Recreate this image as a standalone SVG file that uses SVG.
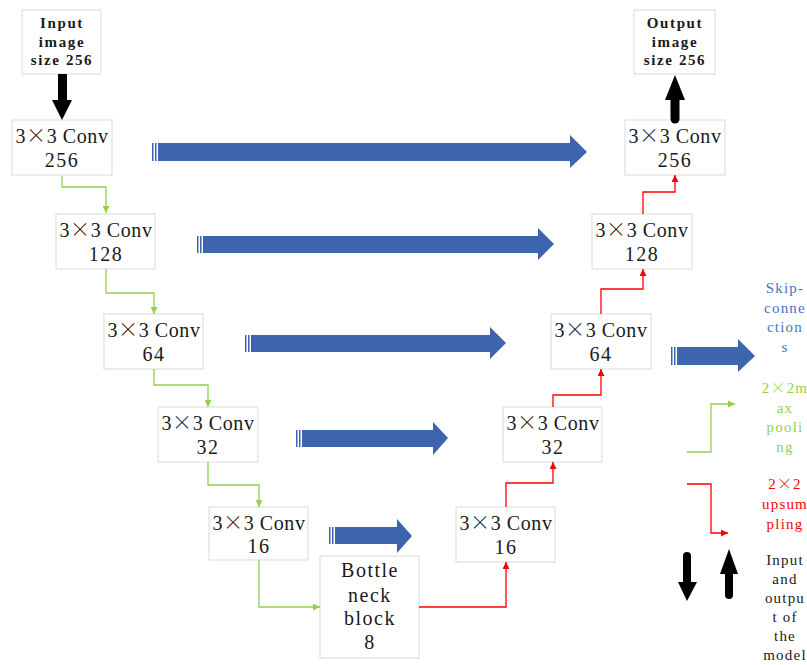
<svg xmlns="http://www.w3.org/2000/svg" width="807" height="665" viewBox="0 0 807 665">
  <style>
    .box { fill: #ffffff; stroke: #d9d9d9; stroke-width: 1; }
    .t { font-family: "Liberation Serif", "DejaVu Serif", serif; fill: #1a1a1a; text-anchor: middle; }
    .conv { font-size: 20px; letter-spacing: 0.6px; }
    .num { letter-spacing: 1.5px; }
    .mul { font-family: "Noto Sans CJK SC", "Liberation Serif", sans-serif; font-weight: 300; }
    .io { font-size: 15px; letter-spacing: 1.6px; font-weight: bold; }
    .leg { font-size: 15px; letter-spacing: 1.2px; }
    .down { fill: none; stroke: #92d050; stroke-width: 1.3; }
    .up { fill: none; stroke: #ff0000; stroke-width: 1.3; }
    .skip { fill: #3d65ad; }
    .io-arrow { fill: #000000; }
  </style>
  <defs>
    <marker id="headGreen" viewBox="0 0 10 10" refX="10" refY="5" markerWidth="7" markerHeight="7" markerUnits="userSpaceOnUse" orient="auto">
      <path d="M0,0 L10,5 L0,10 Z" fill="#92d050"/>
    </marker>
    <marker id="headRed" viewBox="0 0 10 10" refX="10" refY="5" markerWidth="7" markerHeight="7" markerUnits="userSpaceOnUse" orient="auto">
      <path d="M0,0 L10,5 L0,10 Z" fill="#ff0000"/>
    </marker>
  </defs>

  <rect width="807" height="665" fill="#ffffff"/>

  <!-- encoder -->
  <g id="input">
    <rect class="box" x="22" y="10" width="79" height="64"/>
    <text class="t io" x="62" y="28">Input</text>
    <text class="t io" x="62" y="46.5">image</text>
    <text class="t io" x="62" y="65">size 256</text>
  </g>
  <g id="enc256">
    <rect class="box" x="12" y="120" width="100" height="55"/>
    <text class="t conv" x="62" y="143">3<tspan class="mul">×</tspan>3 Conv</text>
    <text class="t conv num" x="62" y="167">256</text>
  </g>
  <g id="enc128">
    <rect class="box" x="56" y="214" width="99" height="55"/>
    <text class="t conv" x="106" y="237">3<tspan class="mul">×</tspan>3 Conv</text>
    <text class="t conv num" x="106" y="261">128</text>
  </g>
  <g id="enc64">
    <rect class="box" x="104" y="314" width="99" height="55"/>
    <text class="t conv" x="154" y="337">3<tspan class="mul">×</tspan>3 Conv</text>
    <text class="t conv num" x="154" y="361">64</text>
  </g>
  <g id="enc32">
    <rect class="box" x="158" y="407" width="100" height="55"/>
    <text class="t conv" x="208" y="430">3<tspan class="mul">×</tspan>3 Conv</text>
    <text class="t conv num" x="208" y="454">32</text>
  </g>
  <g id="enc16">
    <rect class="box" x="209" y="507" width="99" height="53"/>
    <text class="t conv" x="259" y="530">3<tspan class="mul">×</tspan>3 Conv</text>
    <text class="t conv num" x="259" y="553">16</text>
  </g>
  <g id="bottleneck">
    <rect class="box" x="320" y="556" width="99" height="102"/>
    <text class="t conv num" x="370" y="577">Bottle</text>
    <text class="t conv num" x="370" y="602">neck</text>
    <text class="t conv num" x="370" y="625">block</text>
    <text class="t conv num" x="370" y="649">8</text>
  </g>

  <!-- decoder -->
  <g id="dec16">
    <rect class="box" x="456" y="507" width="99" height="55"/>
    <text class="t conv" x="506" y="530">3<tspan class="mul">×</tspan>3 Conv</text>
    <text class="t conv num" x="506" y="554">16</text>
  </g>
  <g id="dec32">
    <rect class="box" x="503" y="407" width="99" height="55"/>
    <text class="t conv" x="553" y="430">3<tspan class="mul">×</tspan>3 Conv</text>
    <text class="t conv num" x="553" y="454">32</text>
  </g>
  <g id="dec64">
    <rect class="box" x="551" y="314" width="100" height="55"/>
    <text class="t conv" x="601" y="337">3<tspan class="mul">×</tspan>3 Conv</text>
    <text class="t conv num" x="601" y="361">64</text>
  </g>
  <g id="dec128">
    <rect class="box" x="592" y="214" width="100" height="55"/>
    <text class="t conv" x="642" y="237">3<tspan class="mul">×</tspan>3 Conv</text>
    <text class="t conv num" x="642" y="261">128</text>
  </g>
  <g id="dec256">
    <rect class="box" x="625" y="120" width="100" height="55"/>
    <text class="t conv" x="675" y="143">3<tspan class="mul">×</tspan>3 Conv</text>
    <text class="t conv num" x="675" y="167">256</text>
  </g>
  <g id="output">
    <rect class="box" x="634" y="10" width="81" height="64"/>
    <text class="t io" x="675" y="28">Output</text>
    <text class="t io" x="675" y="46.5">image</text>
    <text class="t io" x="675" y="65">size 256</text>
  </g>

  <!-- connectors -->
  <g id="connectors">
    <!-- max pooling steps -->
    <polyline class="down" points="62,176 62,187 106,187 106,213" marker-end="url(#headGreen)"/>
    <polyline class="down" points="106,269 106,293 154,293 154,314" marker-end="url(#headGreen)"/>
    <polyline class="down" points="154,369 154,385 208,385 208,407" marker-end="url(#headGreen)"/>
    <polyline class="down" points="208,462 208,485 259,485 259,507" marker-end="url(#headGreen)"/>
    <polyline class="down" points="259,560 259,607 320,607" marker-end="url(#headGreen)"/>

    <!-- upsampling steps -->
    <polyline class="up" points="419,607 506,607 506,562" marker-end="url(#headRed)"/>
    <polyline class="up" points="506,507 506,483 553,483 553,462" marker-end="url(#headRed)"/>
    <polyline class="up" points="553,407 553,395 601,395 601,369" marker-end="url(#headRed)"/>
    <polyline class="up" points="601,314 601,289 643,289 643,269" marker-end="url(#headRed)"/>
    <polyline class="up" points="643,214 643,192 675,192 675,175" marker-end="url(#headRed)"/>

    <!-- model input / output -->
    <g class="io-arrow">
      <rect x="58" y="74" width="9" height="28"/>
      <polygon points="52,100 72,100 62,120"/>
      <line x1="675" y1="99" x2="675" y2="119" stroke="#000" stroke-width="9" stroke-linecap="round"/>
      <polygon points="665,100 685,100 675,75"/>
    </g>

    <!-- skip connections -->
    <g class="skip">
      <rect x="152" y="143" width="1.5" height="18"/>
      <rect x="155" y="143" width="1.5" height="18"/>
      <rect x="158" y="143" width="413" height="18"/>
      <polygon points="570,135 587,152 570,168"/>
    </g>
    <g class="skip">
      <rect x="197" y="236" width="1.5" height="17"/>
      <rect x="200" y="236" width="1.5" height="17"/>
      <rect x="203" y="236" width="336" height="17"/>
      <polygon points="538,228 554,244 538,260"/>
    </g>
    <g class="skip">
      <rect x="245" y="335" width="1.5" height="17"/>
      <rect x="248" y="335" width="1.5" height="17"/>
      <rect x="251" y="335" width="240" height="17"/>
      <polygon points="490,327 506,343 490,359"/>
    </g>
    <g class="skip">
      <rect x="296" y="430" width="1.5" height="17"/>
      <rect x="299" y="430" width="1.5" height="17"/>
      <rect x="302" y="430" width="132" height="17"/>
      <polygon points="433,422 448,438 433,455"/>
    </g>
    <g class="skip">
      <rect x="329" y="527" width="1.5" height="17"/>
      <rect x="332" y="527" width="1.5" height="17"/>
      <rect x="335" y="527" width="63" height="17"/>
      <polygon points="397,519 412,536 397,553"/>
    </g>
  </g>

  <!-- legend -->
  <g id="legend-skip">
    <g class="skip">
      <rect x="671" y="347" width="1.5" height="18"/>
      <rect x="674" y="347" width="1.5" height="18"/>
      <rect x="677" y="347" width="62" height="18"/>
      <polygon points="738,339 755,356 738,372"/>
    </g>
    <text class="t leg" x="785" y="293" style="fill:#4472c4">Skip-</text>
    <text class="t leg" x="785" y="313" style="fill:#4472c4">conne</text>
    <text class="t leg" x="785" y="332" style="fill:#4472c4">ction</text>
    <text class="t leg" x="785" y="352" style="fill:#4472c4">s</text>
  </g>
  <g id="legend-pool">
    <polyline class="down" points="687,452 711,452 711,404 735,404" marker-end="url(#headGreen)"/>
    <text class="t leg" x="785" y="393" style="fill:#92d050">2<tspan class="mul">×</tspan>2m</text>
    <text class="t leg" x="785" y="413" style="fill:#92d050">ax</text>
    <text class="t leg" x="785" y="432" style="fill:#92d050">pooli</text>
    <text class="t leg" x="785" y="452" style="fill:#92d050">ng</text>
  </g>
  <g id="legend-upsample">
    <polyline class="up" points="687,484 711,484 711,533 728,533" marker-end="url(#headRed)"/>
    <text class="t leg" x="785" y="489" style="fill:#ff0000">2<tspan class="mul">×</tspan>2</text>
    <text class="t leg" x="785" y="509" style="fill:#ff0000">upsum</text>
    <text class="t leg" x="785" y="529" style="fill:#ff0000">pling</text>
  </g>
  <g id="legend-io">
    <g class="io-arrow">
      <line x1="687" y1="556" x2="687" y2="584" stroke="#000" stroke-width="8" stroke-linecap="round"/>
      <polygon points="678,582 697,582 687,601"/>
      <line x1="729" y1="572" x2="729" y2="595" stroke="#000" stroke-width="8" stroke-linecap="round"/>
      <polygon points="720,574 738,574 729,549"/>
    </g>
    <text class="t leg" x="785" y="565">Input</text>
    <text class="t leg" x="785" y="584">and</text>
    <text class="t leg" x="785" y="603">outpu</text>
    <text class="t leg" x="785" y="622">t of</text>
    <text class="t leg" x="785" y="641">the</text>
    <text class="t leg" x="785" y="660">model</text>
  </g>
</svg>
